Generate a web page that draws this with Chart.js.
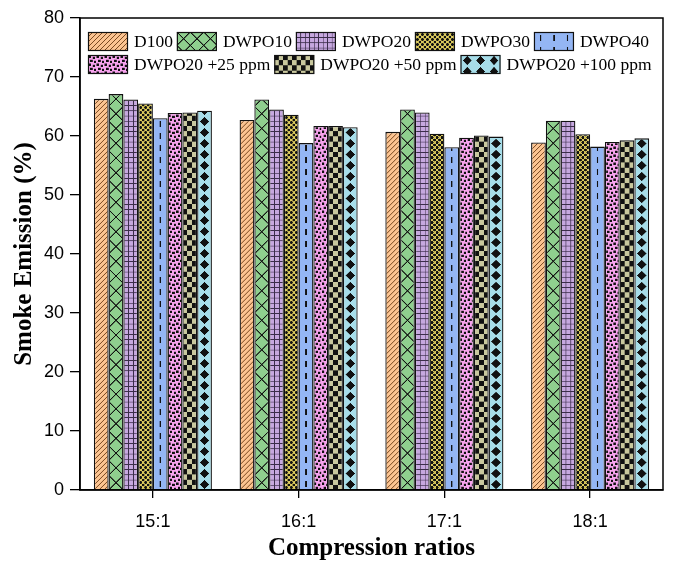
<!DOCTYPE html>
<html>
<head>
<meta charset="utf-8">
<script src="https://cdn.jsdelivr.net/npm/chart.js@4.4.1/dist/chart.umd.min.js"></script>
<style>
  html, body { margin: 0; padding: 0; background: #fff; }
  #wrap { width: 676px; height: 566px; }
</style>
</head>
<body>
<div id="wrap"><canvas id="c" width="676" height="566"></canvas></div>
<script>
// Smoke emission (%) by compression ratio for each fuel blend
const ratios = ['15:1', '16:1', '17:1', '18:1'];
const d100         = [66.3, 62.7, 60.7, 58.9];
const dwpo10       = [67.1, 66.2, 64.5, 62.6];
const dwpo20       = [66.2, 64.5, 64.0, 62.6];
const dwpo30       = [65.5, 63.6, 60.4, 60.3];
const dwpo40       = [63.0, 58.8, 58.1, 58.2];
const dwpo20ppm25  = [63.9, 61.7, 59.7, 59.0];
const dwpo20ppm50  = [64.0, 61.7, 60.1, 59.3];
const dwpo20ppm100 = [64.3, 61.5, 59.9, 59.6];
const seriesNames = ['D100', 'DWPO10', 'DWPO20', 'DWPO30', 'DWPO40',
                     'DWPO20 +25 ppm', 'DWPO20 +50 ppm', 'DWPO20 +100 ppm'];
const yTicks = [0, 10, 20, 30, 40, 50, 60, 70, 80];

const CAT_PCT = 0.81;
const SS = 3; // supersampling for pattern tiles

// Fill patterns, each described in its own tile coordinates (w = bar width)
const patternSpecs = {
  hatch: {
    size: () => [5, 5],
    draw(g, tw, th) {
      g.fillStyle = '#FCC491'; g.fillRect(0, 0, tw, th);
      g.strokeStyle = '#7B4B22'; g.lineWidth = 0.75;
      g.beginPath();
      for (let k = -1; k <= 1; k++) { g.moveTo(k * tw, th); g.lineTo(k * tw + tw, 0); }
      g.stroke();
    }
  },
  cross: {
    size: (w) => [w, w],
    draw(g, tw, th) {
      g.fillStyle = '#8FCF8E'; g.fillRect(0, 0, tw, th);
      g.strokeStyle = '#111'; g.lineWidth = 1.0;
      g.beginPath();
      g.moveTo(0, 0); g.lineTo(tw, th);
      g.moveTo(0, th); g.lineTo(tw, 0);
      g.stroke();
    }
  },
  grid: {
    size: (w) => [w / 3, 5.2],
    draw(g, tw, th) {
      g.fillStyle = '#C6A8DF'; g.fillRect(0, 0, tw, th);
      g.fillStyle = '#3b2d4a';
      g.fillRect(0, 0, 0.8, th);
      g.fillRect(0, 0, tw, 0.8);
    }
  },
  mesh: {
    size: () => [5, 5],
    draw(g, tw, th) {
      g.fillStyle = '#DCCB5E'; g.fillRect(0, 0, tw, th);
      g.fillStyle = '#111';
      const pts = [[0, 0], [tw, 0], [0, th], [tw, th], [tw / 2, th / 2]];
      pts.forEach(([x, y]) => { g.beginPath(); g.arc(x, y, 1.4, 0, Math.PI * 2); g.fill(); });
    }
  },
  dash: {
    size: (w) => [w, 12],
    draw(g, tw, th) {
      g.fillStyle = '#94B6F4'; g.fillRect(0, 0, tw, th);
      g.fillStyle = '#111';
      g.fillRect(tw / 2 - 0.7, 3, 1.4, 6);
    }
  },
  speckle: {
    size: () => [8, 8],
    draw(g, tw, th) {
      g.fillStyle = '#F7A3EE'; g.fillRect(0, 0, tw, th);
      g.fillStyle = '#111';
      [[0.5, 0.5], [4.6, 1.6], [2.2, 4.6], [6.2, 5.6]].forEach(([x, y]) => g.fillRect(x, y, 2.4, 2.4));
    }
  },
  checker: {
    size: (w) => [2 * w / 3, 10.4],
    draw(g, tw, th) {
      g.fillStyle = '#C9C89E'; g.fillRect(0, 0, tw, th);
      g.fillStyle = '#111';
      g.fillRect(0, 0, tw / 2, th / 2);
      g.fillRect(tw / 2, th / 2, tw / 2, th / 2);
    }
  },
  diamond: {
    size: (w) => [w, 11],
    draw(g, tw, th) {
      g.fillStyle = '#A7DDE9'; g.fillRect(0, 0, tw, th);
      g.fillStyle = '#111';
      const cx = tw / 2, cy = th / 2, hw = tw * 0.32, hh = 4.6;
      g.beginPath();
      g.moveTo(cx, cy - hh); g.lineTo(cx + hw, cy); g.lineTo(cx, cy + hh); g.lineTo(cx - hw, cy);
      g.closePath(); g.fill();
    }
  }
};
const seriesPatterns = ['hatch', 'cross', 'grid', 'mesh', 'dash', 'speckle', 'checker', 'diamond'];

const tileCache = {};
function getTile(kind, w) {
  const key = kind + ':' + w.toFixed(3);
  if (tileCache[key]) return tileCache[key];
  const spec = patternSpecs[kind];
  const [tw, th] = spec.size(w);
  const cw = Math.max(1, Math.round(tw * SS)), ch = Math.max(1, Math.round(th * SS));
  const cv = document.createElement('canvas');
  cv.width = cw; cv.height = ch;
  const g = cv.getContext('2d');
  g.scale(cw / tw, ch / th);
  spec.draw(g, tw, th);
  return (tileCache[key] = { cv, tw, th, cw, ch });
}

function makePattern(ctx, kind, w, x0, y0) {
  const t = getTile(kind, w);
  const pat = ctx.createPattern(t.cv, 'repeat');
  pat.setTransform(new DOMMatrix().translate(x0, y0).scale(t.tw / t.cw, t.th / t.ch));
  return pat;
}

// Pattern anchored at the left edge of each bar
function barFill(kind) {
  return (c) => {
    const chart = c.chart;
    const xs = chart.scales.x;
    if (c.type !== 'data' || !xs || !chart.chartArea) return '#ccc';
    const catW = xs.width / ratios.length;
    const groupW = catW * CAT_PCT;
    const barW = groupW / seriesNames.length;
    const left = xs.getPixelForValue(c.dataIndex) - groupW / 2 + c.datasetIndex * barW;
    return makePattern(chart.ctx, kind, barW, left, chart.chartArea.bottom);
  };
}

const seriesData = [d100, dwpo10, dwpo20, dwpo30, dwpo40, dwpo20ppm25, dwpo20ppm50, dwpo20ppm100];

const datasets = seriesData.map((vals, i) => ({
  label: seriesNames[i],
  data: vals,
  backgroundColor: barFill(seriesPatterns[i]),
  borderColor: '#111',
  borderWidth: 1.3,
  categoryPercentage: CAT_PCT,
  barPercentage: 1.0
}));

// Box around the plotting area
const framePlugin = {
  id: 'frame',
  afterDatasetsDraw(chart) {
    const { left, top, right, bottom } = chart.chartArea;
    const g = chart.ctx;
    g.save();
    g.strokeStyle = '#000';
    g.lineWidth = 1.5;
    g.strokeRect(left, top, right - left, bottom - top);
    g.restore();
  }
};

// Two-row legend inside the plot
const legendPlugin = {
  id: 'innerLegend',
  afterDatasetsDraw(chart) {
    const g = chart.ctx;
    const rows = [[0, 1, 2, 3, 4], [5, 6, 7]];
    const rowTop = [32, 55];
    const boxW = 40, boxH = 19, startX = 88;
    g.save();
    g.font = '17.5px "Liberation Serif"';
    g.textBaseline = 'middle';
    g.textAlign = 'left';
    rows.forEach((row, r) => {
      let x = startX;
      const y = rowTop[r];
      row.forEach((i) => {
        g.fillStyle = makePattern(g, seriesPatterns[i], 13.4, x, y);
        g.fillRect(x, y, boxW, boxH);
        g.strokeStyle = '#111';
        g.lineWidth = 1.2;
        g.strokeRect(x + 0.5, y + 0.5, boxW - 1, boxH - 1);
        x += boxW + 6;
        g.fillStyle = '#000';
        g.fillText(seriesNames[i], x, y + boxH / 2 + 1);
        x += g.measureText(seriesNames[i]).width + 4;
      });
    });
    g.restore();
  }
};

new Chart(document.getElementById('c'), {
  type: 'bar',
  data: { labels: ratios, datasets },
  options: {
    responsive: false,
    maintainAspectRatio: false,
    devicePixelRatio: 1,
    animation: false,
    events: [],
    layout: { padding: { left: 0, right: 13, top: 18, bottom: 0 } },
    plugins: { legend: { display: false }, tooltip: { enabled: false } },
    scales: {
      x: {
        type: 'category',
        offset: true,
        grid: { display: true, drawOnChartArea: false, drawTicks: true, tickLength: 8,
                offset: false, color: '#000', lineWidth: 1.3 },
        border: { display: true, color: '#000', width: 1.5 },
        ticks: { color: '#000', font: { family: 'Liberation Sans', size: 18 }, padding: 13, maxRotation: 0 },
        title: { display: true, text: 'Compression ratios', color: '#000',
                 font: { family: 'Liberation Serif', size: 25, weight: 'bold' },
                 padding: { top: 0, bottom: 2 } },
        afterFit(s) { s.height = 76; }
      },
      y: {
        min: 0, max: 80,
        afterBuildTicks(s) { s.ticks = yTicks.map(v => ({ value: v })); },
        ticks: { color: '#000', font: { family: 'Liberation Sans', size: 18 }, padding: 6 },
        grid: { display: true, drawOnChartArea: false, drawTicks: true, tickLength: 10,
                color: '#000', lineWidth: 1.3 },
        border: { display: true, color: '#000', width: 1.5 },
        title: { display: true, text: 'Smoke Emission (%)', color: '#000',
                 font: { family: 'Liberation Serif', size: 25, weight: 'bold' },
                 padding: { top: 10, bottom: 0 } },
        afterFit(s) { s.width = 80; }
      }
    }
  },
  plugins: [framePlugin, legendPlugin]
});
</script>
</body>
</html>
